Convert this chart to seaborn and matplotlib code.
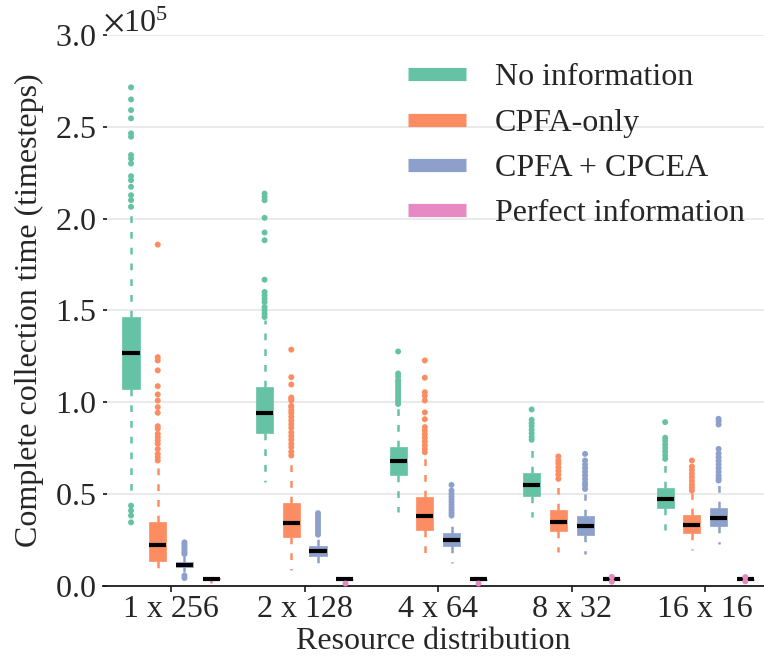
import numpy as np
import pandas as pd
import matplotlib
matplotlib.use("Agg")
import matplotlib.pyplot as plt
from matplotlib.lines import Line2D
import seaborn as sns

# ---------------- data ----------------
categories = ["1 x 256", "2 x 128", "4 x 64", "8 x 32", "16 x 16"]
methods = ["No information", "CPFA-only", "CPFA + CPCEA", "Perfect information"]

# No information
noinfo_med = [126700, 94200, 67800, 54900, 47300]
noinfo_q1 = [106900, 83100, 60500, 49100, 42200]
noinfo_q3 = [146400, 108200, 75800, 61600, 53100]
noinfo_lo = [51800, 56400, 40000, 37300, 30400]
noinfo_hi = [202700, 144500, 98000, 76000, 66000]
noinfo_fliers = [
    [271500, 264900, 259100, 254600, 246400, 244600, 234600, 232700, 230000,
     223100, 220900, 217300, 212700, 210000, 206400, 43600, 40900, 38200, 34500],
    [213600, 211800, 210000, 200400, 192400, 188200, 166700, 160000, 158200,
     156300, 154500, 151800, 150000, 148200, 146400],
    [127600, 115600, 114000, 112000, 110900, 109500, 108000, 106500, 105000,
     103500, 102000, 100500, 99000],
    [96000, 90400, 88500, 87000, 85000, 83000, 81000, 79500],
    [89100, 80600, 79000, 77000, 75000, 73000, 71000, 69100],
]

# CPFA-only
cpfa_med = [22200, 34200, 37800, 34500, 33300]
cpfa_q1 = [13300, 26400, 30400, 29600, 28700]
cpfa_q3 = [34900, 44900, 48200, 41500, 38700]
cpfa_lo = [9300, 8600, 17300, 18200, 19600]
cpfa_hi = [66400, 70000, 70000, 54500, 50300]
cpfa_fliers = [
    [185800, 124500, 122700, 117300, 108700, 104200, 100900, 97300, 94200,
     86900, 85500, 82700, 80900, 79100, 77300, 74500, 71800, 70000, 68200],
    [128600, 113600, 109600, 101800, 97300, 102500, 100900, 98000, 95500,
     94000, 92000, 90000, 88000, 86000, 83500, 81500, 79500, 77300, 75500,
     73000, 70900],
    [122700, 113300, 105400, 103500, 100900, 94400, 90700, 86400, 84500,
     82500, 80500, 78500, 76500, 74500, 72700],
    [70400, 68200, 66500, 64500, 62500, 60500, 58200],
    [68200, 64900, 63000, 61000, 59000, 57000, 55000, 53500, 51800],
]

# CPFA + CPCEA
cpcea_med = [11500, 18700, 24900, 32700, 36700]
cpcea_q1 = [10000, 16000, 21500, 27800, 32400]
cpcea_q3 = [12700, 21500, 28700, 38200, 42400]
cpcea_lo = [7300, 12200, 12200, 17300, 22700]
cpcea_hi = [16400, 25500, 32700, 50000, 56000]
cpcea_fliers = [
    [23600, 22500, 21300, 20000, 19000, 18000, 17300, 5500, 4200],
    [39500, 38000, 36500, 35000, 33500, 32000, 30500, 29000, 27800],
    [54900, 51800, 50000, 48500, 47000, 45500, 44000, 42500, 41000, 39500,
     38200],
    [71800, 68200, 66000, 64000, 62000, 60000, 58000, 56000, 54500, 52700],
    [90900, 89500, 87800, 74500, 72000, 70000, 68000, 66000, 64000, 62000,
     60000, 58500, 57300],
]

# Perfect information
perfect_med = [3800, 3600, 3600, 3600, 3600]
perfect_q1 = [3400, 3300, 3300, 3300, 3300]
perfect_q3 = [4100, 3900, 3900, 3900, 3900]
perfect_lo = [1500, 2500, 2500, 2700, 2700]
perfect_hi = [5000, 4500, 4500, 4500, 4500]
perfect_fliers = [
    [],
    [1200],
    [1500],
    [4800, 2200],
    [4700, 2400],
]

series = [
    (noinfo_med, noinfo_q1, noinfo_q3, noinfo_lo, noinfo_hi, noinfo_fliers),
    (cpfa_med, cpfa_q1, cpfa_q3, cpfa_lo, cpfa_hi, cpfa_fliers),
    (cpcea_med, cpcea_q1, cpcea_q3, cpcea_lo, cpcea_hi, cpcea_fliers),
    (perfect_med, perfect_q1, perfect_q3, perfect_lo, perfect_hi, perfect_fliers),
]

# ---------------- style ----------------
sns.set_theme(style="whitegrid")
plt.rcParams["font.family"] = ["Liberation Serif", "DejaVu Serif"]
plt.rcParams["mathtext.fontset"] = "stix"
palette = sns.color_palette("Set2", 4)
FS = 23

fig = plt.figure(figsize=(7.64, 6.60), dpi=100)
ax = fig.add_axes([103 / 764, 1 - 585.7 / 660, 661 / 764, (585.7 - 35) / 660])

# fliers via seaborn stripplot (long-form table)
rows = []
for m, s in zip(methods, series):
    for c, fl in zip(categories, s[5]):
        for v in fl:
            rows.append((c, m, v))
flier_df = pd.DataFrame(rows, columns=["dist", "method", "time"])

sns.stripplot(data=flier_df, x="dist", y="time", hue="method",
              order=categories, hue_order=methods, palette=palette,
              dodge=True, jitter=False, size=4.3, linewidth=0,
              legend=False, ax=ax, zorder=3)

# boxes from the summary statistics
n_h = len(methods)
for i, (m, s) in enumerate(zip(methods, series)):
    med, q1, q3, lo, hi, fl = s
    stats = []
    for j in range(len(categories)):
        stats.append(dict(med=med[j], q1=q1[j], q3=q3[j],
                          whislo=lo[j], whishi=hi[j], fliers=[]))
    pos = np.arange(len(categories)) + (i - (n_h - 1) / 2) * 0.8 / n_h
    col = palette[i]
    ax.bxp(stats, positions=pos, widths=0.128, patch_artist=True,
           showcaps=False, showfliers=False, manage_ticks=False,
           boxprops=dict(facecolor=col, edgecolor=col, linewidth=0.5),
           whiskerprops=dict(color=col, linewidth=1.8,
                             linestyle=(0, (2.7, 3.6))),
           medianprops=dict(color="black", linewidth=3.0),
           zorder=2)

ax.set_xlim(-0.51, 4.44)
ax.set_ylim(0, 300000)
ax.set_yticks(np.arange(0, 300001, 50000))
ax.ticklabel_format(axis="y", style="sci", scilimits=(5, 5), useMathText=True)
ax.yaxis.get_offset_text().set_fontsize(FS)

ax.grid(axis="x", visible=False)
ax.grid(axis="y", color="#e6e6e6", linewidth=1.2)
for sp in ["top", "right", "left"]:
    ax.spines[sp].set_visible(False)
ax.spines["bottom"].set_color("0.1")
ax.spines["bottom"].set_linewidth(1.3)

ax.tick_params(axis="x", which="major", direction="out", length=4.5,
               width=1.2, color="0.1", labelsize=FS, pad=2, bottom=True)
ax.tick_params(axis="y", which="major", direction="in", length=3,
               width=1.2, color="0.1", labelsize=FS, pad=5, left=True)
ax.set_xlabel("Resource distribution", fontsize=FS, labelpad=2)
ax.set_ylabel("Complete collection time (timesteps)", fontsize=FS, labelpad=8)

handles = [Line2D([], [], color=palette[i], linewidth=9.5, solid_capstyle="butt")
           for i in range(n_h)]
ax.legend(handles, methods, loc="upper left", frameon=False, fontsize=FS,
          handlelength=1.82, handletextpad=0.91, labelspacing=0.5,
          borderpad=0, borderaxespad=0,
          bbox_to_anchor=(408 / 764, 1 - 63 / 660), bbox_transform=fig.transFigure)

fig.savefig("out.png", dpi=100)
